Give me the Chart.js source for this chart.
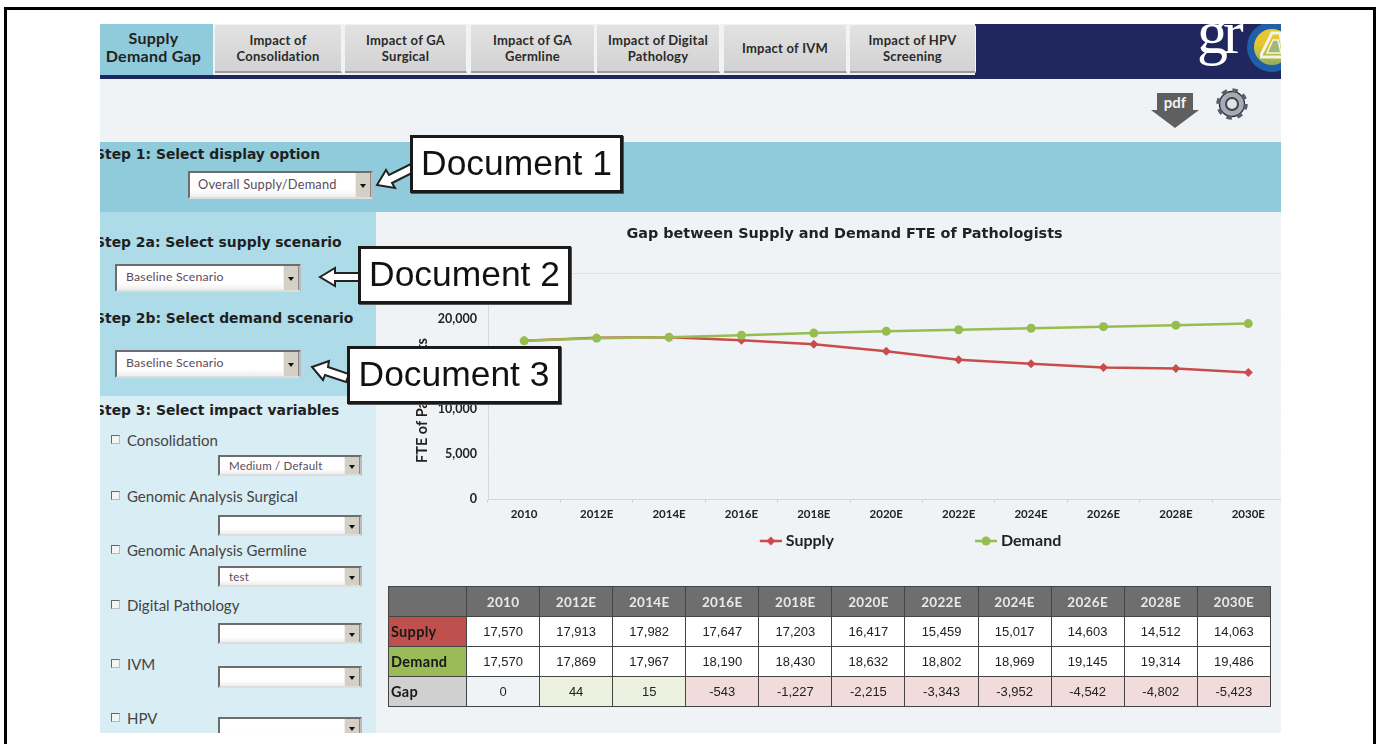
<!DOCTYPE html>
<html>
<head>
<meta charset="utf-8">
<title>Gap between Supply and Demand FTE of Pathologists</title>
<script src="https://cdn.jsdelivr.net/npm/chart.js@4"></script>
<style>
html,body{margin:0;padding:0;background:#fff;overflow:hidden}
#stage{position:relative;width:1377px;height:744px;overflow:hidden;background:#fff;font-family:Lato,sans-serif;filter:blur(.45px)}
#frame{position:absolute;left:4px;top:7px;width:1366px;height:760px;border:3px solid #000}
#panel{position:absolute;left:100px;top:24px;width:1181px;height:709px;background:#f0f3f5;overflow:hidden}
.abs{position:absolute}
#navy{left:0;top:51px;width:1181px;height:4px;background:#20275f}
#navy2{left:875px;top:0;width:306px;height:55px;background:#20275f;overflow:hidden}
.tab{position:absolute;top:1px;height:46px;background:linear-gradient(#e2e2e2,#d2d2d2);border-bottom:2px solid #9a9a9a;border-right:1px solid #f4f4f4;border-radius:2px 2px 0 0;color:#2a2a2a;font:700 13px/16px Lato,sans-serif;text-align:center;display:flex;align-items:center;justify-content:center;letter-spacing:.25px}
#tab0{left:0;top:-4px;width:107px;height:53px;background:none;border:0;font-size:16px;line-height:18px;color:#222;padding-right:6px}
#tabbg{left:0;top:0;width:113px;height:51px;background:#8fcbdb}
#band{left:0;top:118px;width:1181px;height:70px;background:#8fcbdb}
#side1{left:0;top:188px;width:276px;height:184px;background:#aedbe8}
#side2{left:0;top:372px;width:276px;height:337px;background:#d8edf4}
.step{position:absolute;font:700 13.9px/18px "DejaVu Sans",sans-serif;color:#1f1f1f;white-space:nowrap}
.dd{position:absolute;box-sizing:border-box;background:linear-gradient(#fff 70%,#eee);border:2px solid #6d6d6d;border-right-color:#bbb;border-bottom-color:#ddd;color:#5b4c5a;white-space:nowrap;overflow:hidden;letter-spacing:.2px}
.dd span{position:absolute;top:-3px;bottom:0;display:flex;align-items:center}
.dd b{position:absolute;right:0;top:0;bottom:0;width:14px;background:#d4d0c6;border-left:1px solid #eee;border-right:1px solid #888}
.dd b:after{content:"";position:absolute;left:4px;top:50%;margin-top:-1px;border:3px solid transparent;border-top:4px solid #111}
.chk{position:absolute;font:400 15px/18px Lato,sans-serif;color:#444;white-space:nowrap;padding-left:16px}
.chk:before{content:"";position:absolute;left:0;top:4px;width:7px;height:7px;border:1.5px solid #666;border-right-color:#bbb;border-bottom-color:#bbb;background:#f4f4f4}
.doc{position:absolute;box-sizing:border-box;background:#fff;border:3px solid #1a1a1a;color:#111;font:400 35.4px/1 "Liberation Sans",sans-serif;display:flex;align-items:center;justify-content:center;white-space:nowrap;box-shadow:1px 1px 0 #555}
#chartWrap{position:absolute;left:380px;top:220px;width:901px;height:513px;overflow:hidden}
#tbl{position:absolute;left:388px;top:586px;width:883px;height:120px;border-collapse:collapse;table-layout:fixed}
#tbl th,#tbl td{border:1.5px solid #444;text-align:center;padding:0;height:30px;box-sizing:border-box}
#tbl th{background:#6e6e6e;color:#e9e9e9;font:700 13.5px Lato,sans-serif;letter-spacing:.3px}
#tbl td{font:400 13px "Liberation Sans",sans-serif;color:#222}
#tbl td.v{background:#fff}
#tbl td.rl{text-align:left;padding-left:2px;color:#181818;font:700 14.5px Lato,sans-serif;letter-spacing:.3px}
</style>
</head>
<body>
<div id="stage">
  <div id="frame"></div>
  <div id="panel">
    <div class="abs" id="navy"></div>
    <div class="abs" id="navy2">
      <div class="abs" style="left:222px;top:-32px;font:400 62px/80px 'Liberation Serif',serif;color:#fff;letter-spacing:-5px">gr</div>
      <div class="abs" style="left:272px;top:-2px;width:50px;height:50px;border-radius:50%;background:#1f5fa8"></div>
      <div class="abs" style="left:279px;top:5px;width:36px;height:36px;border-radius:50%;background:linear-gradient(#e7c930,#e3c52e 45%,#8fb060)"></div>
      <svg class="abs" style="left:285px;top:6px" width="21" height="32"><path d="M12 3L0 27H24L20 3Z" fill="none" stroke="#f4f4e8" stroke-width="3"/><path d="M13 10L7 23H21L18 10Z" fill="#9fb87a" stroke="#f4f4e8" stroke-width="1.5"/></svg>
    </div>
    <div class="abs" id="tabbg"></div>
    <div class="tab" id="tab0">Supply<br>Demand Gap</div>
    <div class="tab" style="left:115px;width:126px">Impact of<br>Consolidation</div>
    <div class="tab" style="left:245px;width:121px">Impact of GA<br>Surgical</div>
    <div class="tab" style="left:371px;width:123px">Impact of GA<br>Germline</div>
    <div class="tab" style="left:497px;width:122px">Impact of Digital<br>Pathology</div>
    <div class="tab" style="left:624px;width:122px">Impact of IVM</div>
    <div class="tab" style="left:750px;width:125px">Impact of HPV<br>Screening</div>
    <div class="abs" id="band"></div>
    <div class="abs" id="side1"></div>
    <div class="abs" id="side2"></div>
    <div class="step" style="left:-5px;top:121px">Step 1: Select display option</div>
    <div class="step" style="left:-5px;top:209px">Step 2a: Select supply scenario</div>
    <div class="step" style="left:-5px;top:285px">Step 2b: Select demand scenario</div>
    <div class="step" style="left:-5px;top:377px">Step 3: Select impact variables</div>
    <div class="dd" style="left:88px;top:147px;width:185px;height:28px;font-size:12.8px"><span style="left:8px">Overall Supply/Demand</span><b></b></div>
    <div class="dd" style="left:15px;top:240px;width:186px;height:28px;font-size:12.3px"><span style="left:9px">Baseline Scenario</span><b></b></div>
    <div class="dd" style="left:15px;top:326px;width:186px;height:28px;font-size:12.3px"><span style="left:9px">Baseline Scenario</span><b></b></div>
    <div class="chk" style="left:11px;top:407px">Consolidation</div>
    <div class="dd" style="left:118px;top:431px;width:144px;height:21px;font-size:11.5px"><span style="left:9px;top:-1px">Medium / Default</span><b></b></div>
    <div class="chk" style="left:11px;top:463px">Genomic Analysis Surgical</div>
    <div class="dd" style="left:118px;top:491px;width:144px;height:21px"><b></b></div>
    <div class="chk" style="left:11px;top:517px">Genomic Analysis Germline</div>
    <div class="dd" style="left:118px;top:542px;width:144px;height:21px;font-size:11.5px"><span style="left:9px;top:-1px">test</span><b></b></div>
    <div class="chk" style="left:11px;top:572px">Digital Pathology</div>
    <div class="dd" style="left:118px;top:599px;width:144px;height:21px"><b></b></div>
    <div class="chk" style="left:11px;top:631px">IVM</div>
    <div class="dd" style="left:118px;top:642px;width:144px;height:22px"><b></b></div>
    <div class="chk" style="left:11px;top:685px">HPV</div>
    <div class="dd" style="left:118px;top:693px;width:144px;height:22px"><b></b></div>
    <svg class="abs" style="left:1040px;top:60px" width="120" height="60">
      <path d="M17 9H53V26H59L35 44L11 26H17Z" fill="#5f5f5f"/>
      <text x="35" y="24" text-anchor="middle" font-family="Lato,sans-serif" font-weight="700" font-size="15" fill="#f2f2f2">pdf</text>
      <circle cx="92" cy="20" r="12.5" fill="#a3adb8" stroke="#333" stroke-width="1.4"/>
      <circle cx="92" cy="20" r="14" fill="none" stroke="#55606c" stroke-width="3.5" stroke-dasharray="5.5 5.5"/>
      <circle cx="92" cy="20" r="6" fill="#dfe4e8" stroke="#444" stroke-width="2"/>
    </svg>
  </div>
  <div id="chartWrap"><canvas id="chart" width="909" height="476" style="width:909px;height:476px;display:block"></canvas></div>
  <table id="tbl"></table>
  <svg class="abs" style="left:0;top:0" width="1377" height="744">
    <g fill="#fff" stroke="#222" stroke-width="2" stroke-linejoin="miter">
      <path d="M377 185L386 170L389 175L411 164L414 172L392 183L395 188Z"/>
      <path d="M320 277L335 268V273H359V281H335V286Z"/>
      <path d="M312 367L329 361L328 367L349 374L346 382L325 375L323 380Z"/>
    </g>
  </svg>
  <div class="doc" style="left:410px;top:135px;width:213px;height:58px">Document 1</div>
  <div class="doc" style="left:358px;top:246px;width:213px;height:58px">Document 2</div>
  <div class="doc" style="left:347px;top:346px;width:214px;height:58px">Document 3</div>
</div>
<script>
const categories = ["2010","2012E","2014E","2016E","2018E","2020E","2022E","2024E","2026E","2028E","2030E"];
const supplyValues = [17570,17913,17982,17647,17203,16417,15459,15017,14603,14512,14063];
const demandValues = [17570,17869,17967,18190,18430,18632,18802,18969,19145,19314,19486];
const gapValues = [0,44,15,-543,-1227,-2215,-3343,-3952,-4542,-4802,-5423];
const seriesNames = ["Supply","Demand"];
const chartTitle = "Gap between Supply and Demand FTE of Pathologists";
const yAxisTitle = "FTE of Pathologists";

const RED = "#c94c4c", GREEN = "#96bd50";
const fmt = v => v.toLocaleString("en-US");

// Table under the chart, built from the same arrays
(function () {
  let h = '<colgroup><col style="width:78px">' + categories.map(() => '<col>').join('') + '</colgroup>';
  h += '<tr><th></th>' + categories.map(c => '<th>' + c + '</th>').join('') + '</tr>';
  h += '<tr><td class="rl" style="background:#c0504d">Supply</td>' + supplyValues.map(v => '<td class="v">' + fmt(v) + '</td>').join('') + '</tr>';
  h += '<tr><td class="rl" style="background:#9bbb59">Demand</td>' + demandValues.map(v => '<td class="v">' + fmt(v) + '</td>').join('') + '</tr>';
  h += '<tr><td class="rl" style="background:#d0d0d0">Gap</td>' + gapValues.map(v => {
    const bg = v === 0 ? '#f0f3f5' : (v > 0 ? '#ebf1de' : '#f2dcdb');
    return '<td style="background:' + bg + '">' + fmt(v) + '</td>';
  }).join('') + '</tr>';
  document.getElementById('tbl').innerHTML = h;
})();

function legendGlyph(color, style) {
  const c = document.createElement('canvas');
  c.width = 26; c.height = 12;
  const x = c.getContext('2d');
  x.strokeStyle = color; x.fillStyle = color; x.lineWidth = 2.5;
  x.beginPath(); x.moveTo(4, 6); x.lineTo(26, 6); x.stroke();
  x.beginPath();
  if (style === 'circle') x.arc(15, 6, 4.5, 0, Math.PI * 2);
  else { x.moveTo(15, 1.5); x.lineTo(19.5, 6); x.lineTo(15, 10.5); x.lineTo(10.5, 6); x.closePath(); }
  x.fill();
  return c;
}
const glyphs = [legendGlyph(RED, 'rectRot'), legendGlyph(GREEN, 'circle')];

const placement = {
  id: 'placement',
  afterLayout(chart) {
    const t = chart.titleBlock;
    t.left += 10; t.right += 10;
    const l = chart.legend;
    const dy = 172 - l.top;
    l.left += 76; l.right += 76; l.top += dy; l.bottom += dy;
    const y = chart.scales.y;
    const drawTitle = y.drawTitle;
    y.drawTitle = function () {
      this.bottom += 28;
      drawTitle.call(this);
      this.bottom -= 28;
    };
  }
};

new Chart(document.getElementById('chart'), {
  type: 'line',
  plugins: [placement],
  data: {
    labels: categories,
    datasets: [
      { label: seriesNames[0], data: supplyValues, order: 2, borderColor: RED, backgroundColor: RED, borderWidth: 2.5, pointStyle: 'rectRot', pointRadius: 4.5, pointBorderWidth: 0, tension: 0, clip: false },
      { label: seriesNames[1], data: demandValues, order: 1, borderColor: GREEN, backgroundColor: GREEN, borderWidth: 2.5, pointStyle: 'circle', pointRadius: 4.5, pointBorderWidth: 0, tension: 0, clip: false }
    ]
  },
  options: {
    responsive: false,
    animation: false,
    devicePixelRatio: 1,
    layout: { padding: 0 },
    plugins: {
      tooltip: { enabled: false },
      title: {
        display: true, text: chartTitle, color: '#222',
        font: { family: 'DejaVu Sans', size: 14.4, weight: '700' },
        padding: { top: 5.5, bottom: 31.2 }
      },
      legend: {
        display: true, position: 'bottom',
        labels: {
          usePointStyle: true, pointStyleWidth: 18, padding: 141, color: '#222',
          font: { family: 'Lato', size: 16, weight: '700' },
          generateLabels: chart => chart.data.datasets.map((d, i) => ({
            text: d.label, pointStyle: glyphs[i], datasetIndex: i, hidden: false,
            fontColor: '#222', lineWidth: 0, strokeStyle: d.borderColor, fillStyle: d.borderColor
          }))
        }
      }
    },
    scales: {
      x: {
        offset: true,
        afterFit: s => { s.height = 30; },
        grid: { offset: true, drawOnChartArea: false, tickLength: 4, color: '#cfd2d5' },
        border: { color: '#d6d9dc' },
        ticks: { color: '#222', padding: 4, maxRotation: 0, autoSkip: false, font: { family: 'Lato', size: 11.5, weight: '700' } }
      },
      y: {
        min: 0, max: 25000,
        afterFit: s => { s.width = 108; },
        grid: { tickLength: 3, color: c => c.tick && c.tick.value === 25000 ? '#dde0e3' : 'rgba(230,233,236,.25)' },
        border: { color: '#d6d9dc' },
        ticks: { stepSize: 5000, color: '#222', padding: 8, callback: v => fmt(v), font: { family: 'Lato', size: 12.5, weight: '700' } },
        title: { display: true, text: yAxisTitle, color: '#222', padding: { top: 34, bottom: 0 }, font: { family: 'Lato', size: 14.5, weight: '700' } }
      }
    }
  }
});
</script>
</body>
</html>
